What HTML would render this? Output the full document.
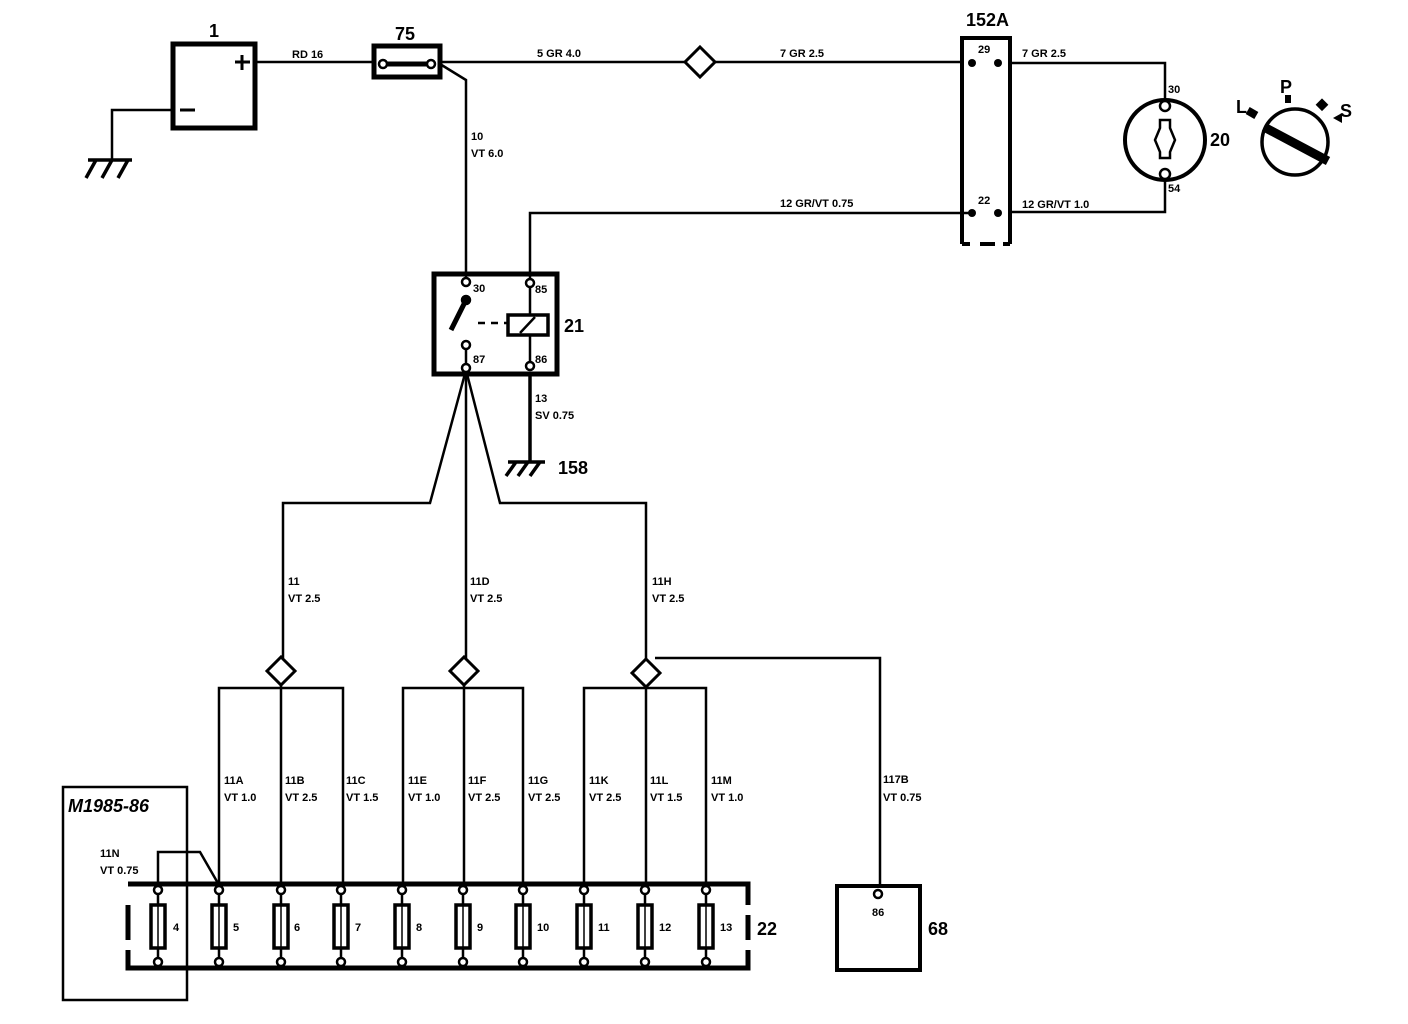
<!DOCTYPE html>
<html><head><style>
html,body{margin:0;padding:0;background:#fff;}
svg{display:block;}
text{font-family:"Liberation Sans",sans-serif;font-weight:bold;fill:#000;}
.s{font-size:11px;}
.b{font-size:18px;}
</style></head><body>
<svg width="1408" height="1024" viewBox="0 0 1408 1024" xmlns="http://www.w3.org/2000/svg">
<defs>
<g id="fu" stroke="#000" stroke-width="2.5" fill="none">
<path d="M0 895 V962"/>
<rect x="-7" y="905" width="14" height="43" stroke-width="3.5" fill="#fff"/>
<path d="M0 905 V948" stroke-width="1.5"/>
<circle cx="0" cy="890" r="4" fill="#fff"/>
<circle cx="0" cy="962" r="4" fill="#fff"/>
</g>
</defs>
<g fill="none" stroke="#000" stroke-width="2.5">
<rect x="173" y="44" width="82" height="84" stroke-width="5"/>
<path d="M255 62 H375"/>
<path d="M172 110 H112 V160"/>
<path d="M88 160 H132 M96 160 L86 178 M112 160 L102 178 M128 160 L118 178" stroke-width="3.5"/>
<path d="M235 62 H250 M242 55 V70 M180 110 H195" stroke-width="3"/>
<rect x="374" y="46" width="66" height="31" stroke-width="5"/>
<path d="M386 64 H430" stroke-width="5"/>
<path d="M440 62 H685 M715 62 H962"/>
<path d="M700 47 L715 62 L700 77 L685 62 Z" stroke-width="3"/>
<path d="M440 64 L466 80 V280"/>
<path d="M962 244 V38 H1010 V244 M962 244 H970 M980 244 H995 M1003 244 H1010" stroke-width="4"/>
<path d="M1010 63 H1165 V100"/>
<path d="M1165 178 V212 H1010"/>
<path d="M972 213 H530 V280"/>
<circle cx="1165" cy="140" r="40" stroke-width="4"/>
<circle cx="1165" cy="106" r="5" fill="#fff"/>
<circle cx="1165" cy="174" r="5" fill="#fff"/>
<path d="M1160 120 H1170 V128 L1175 140 L1170 152 V158 H1160 V152 L1155 140 L1160 128 Z" stroke-width="2.5"/>
<circle cx="1295" cy="142" r="33" stroke-width="3.5"/>
<path d="M1264 127 L1328 161" stroke-width="9"/>
<rect x="434" y="274" width="123" height="100" stroke-width="5"/>
<path d="M530 283 V315 M530 335 V366"/>
<rect x="508" y="315" width="40" height="20" stroke-width="3.5"/>
<path d="M520 333 L535 317" stroke-width="2.5"/>
<path d="M478 323 H508" stroke-dasharray="7,6" stroke-width="2.5"/>
<path d="M466 300 L451 330" stroke-width="5"/>
<circle cx="466" cy="300" r="4" fill="#000"/>
<path d="M466 350 V368"/>
<path d="M530 374 V462 M508 462 H545 M516 462 L506 476 M528 462 L518 476 M540 462 L530 476" stroke-width="3.5"/>
<path d="M466 370 L430 503 H283 V658"/>
<path d="M466 370 V658"/>
<path d="M466 370 L500 503 H646 V660"/>
<path d="M281 657 L295 671 L281 685 L267 671 Z" stroke-width="3"/>
<path d="M464 657 L478 671 L464 685 L450 671 Z" stroke-width="3"/>
<path d="M646 659 L660 673 L646 687 L632 673 Z" stroke-width="3"/>
<path d="M219 883 V688 H343 V883 M281 685 V883"/>
<path d="M403 883 V688 H523 V883 M464 685 V883"/>
<path d="M584 883 V688 H706 V883 M646 687 V883"/>
<path d="M655 658 H880 V888"/>
<rect x="837" y="886" width="83" height="84" stroke-width="4"/>
<path d="M128 884 H748 V905 M748 950 V968 H128 V950 M128 930 V905" stroke-width="5"/>
<path d="M128 915 V940" stroke-width="5"/>
<path d="M748 915 V940" stroke-width="5"/>
<rect x="63" y="787" width="124" height="213" stroke-width="2.5"/>
<path d="M158 890 V852 H200 L219 885"/>
</g>
<g stroke="#000" stroke-width="2.5" fill="#fff">
<circle cx="383" cy="64" r="4"/><circle cx="431" cy="64" r="4"/>
<circle cx="466" cy="282" r="4"/><circle cx="530" cy="283" r="4"/>
<circle cx="466" cy="345" r="4"/><circle cx="466" cy="368" r="4"/><circle cx="530" cy="366" r="4"/>
<circle cx="878" cy="894" r="4"/>
</g>
<g fill="#000">
<circle cx="972" cy="63" r="4"/><circle cx="998" cy="63" r="4"/>
<circle cx="972" cy="213" r="4"/><circle cx="998" cy="213" r="4"/>
<rect x="1247" y="109" width="10" height="8" transform="rotate(30 1252 113)"/>
<rect x="1285" y="95" width="6" height="8"/>
<rect x="1318" y="100" width="9" height="9" transform="rotate(45 1322 104)"/>
<path d="M1333 118 L1342 113 L1342 123 Z"/>
</g>
<use href="#fu" x="158"/><use href="#fu" x="219"/><use href="#fu" x="281"/><use href="#fu" x="341"/><use href="#fu" x="402"/><use href="#fu" x="463"/><use href="#fu" x="523"/><use href="#fu" x="584"/><use href="#fu" x="645"/><use href="#fu" x="706"/>
<g class="s">
<text x="292" y="58">RD 16</text>
<text x="537" y="57">5 GR 4.0</text>
<text x="780" y="57">7 GR 2.5</text>
<text x="1022" y="57">7 GR 2.5</text>
<text x="978" y="53">29</text><text x="978" y="204">22</text>
<text x="1168" y="93">30</text><text x="1168" y="192">54</text>
<text x="780" y="207">12 GR/VT 0.75</text>
<text x="1022" y="208">12 GR/VT 1.0</text>
<text x="471" y="140">10</text><text x="471" y="157">VT 6.0</text>
<text x="473" y="292">30</text><text x="535" y="293">85</text>
<text x="473" y="363">87</text><text x="535" y="363">86</text>
<text x="535" y="402">13</text><text x="535" y="419">SV 0.75</text>
<text x="288" y="585">11</text><text x="288" y="602">VT 2.5</text>
<text x="470" y="585">11D</text><text x="470" y="602">VT 2.5</text>
<text x="652" y="585">11H</text><text x="652" y="602">VT 2.5</text>
<text x="883" y="783">117B</text><text x="883" y="801">VT 0.75</text>
<text x="224" y="784">11A</text><text x="224" y="801">VT 1.0</text>
<text x="285" y="784">11B</text><text x="285" y="801">VT 2.5</text>
<text x="346" y="784">11C</text><text x="346" y="801">VT 1.5</text>
<text x="408" y="784">11E</text><text x="408" y="801">VT 1.0</text>
<text x="468" y="784">11F</text><text x="468" y="801">VT 2.5</text>
<text x="528" y="784">11G</text><text x="528" y="801">VT 2.5</text>
<text x="589" y="784">11K</text><text x="589" y="801">VT 2.5</text>
<text x="650" y="784">11L</text><text x="650" y="801">VT 1.5</text>
<text x="711" y="784">11M</text><text x="711" y="801">VT 1.0</text>
<text x="100" y="857">11N</text><text x="100" y="874">VT 0.75</text>
<text x="173" y="931">4</text><text x="233" y="931">5</text><text x="294" y="931">6</text><text x="355" y="931">7</text>
<text x="416" y="931">8</text><text x="477" y="931">9</text><text x="537" y="931">10</text><text x="598" y="931">11</text>
<text x="659" y="931">12</text><text x="720" y="931">13</text>
<text x="872" y="916">86</text>
</g>
<g class="b">
<text x="209" y="37">1</text>
<text x="395" y="40">75</text>
<text x="966" y="26">152A</text>
<text x="1210" y="146">20</text>
<text x="1236" y="113">L</text><text x="1280" y="93">P</text><text x="1340" y="117">S</text>
<text x="564" y="332">21</text>
<text x="558" y="474">158</text>
<text x="757" y="935">22</text>
<text x="928" y="935">68</text>
<text x="68" y="812" font-style="italic">M1985-86</text>
</g>
</svg>
</body></html>
